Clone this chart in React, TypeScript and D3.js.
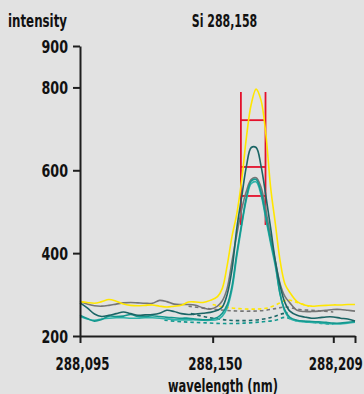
import React, { useEffect, useRef } from "react";
import * as d3 from "d3";

// wavelength grid (nm) shared by the solid spectra
const wavelengths = [
  288.095, 288.098, 288.101, 288.104, 288.107, 288.11, 288.113, 288.116, 288.119, 288.122,
  288.125, 288.128, 288.131, 288.134, 288.137, 288.14, 288.143, 288.146, 288.149, 288.152,
  288.154, 288.156, 288.158, 288.16, 288.162, 288.164, 288.166, 288.168, 288.17, 288.172,
  288.174, 288.176, 288.178, 288.18, 288.182, 288.185, 288.188, 288.191, 288.194, 288.197,
  288.2, 288.203, 288.206, 288.209,
];

const yellowSpec = [
  283, 281, 279, 283, 288, 284, 277, 274, 273, 274, 275, 272, 270, 272, 274, 282, 282, 281, 286, 295,
  315, 370, 440, 495, 575, 680, 760, 796, 770, 690, 560, 470, 380, 325, 305, 283, 275, 272, 273, 274,
  275, 275, 276, 276,
];
const graySpec = [
  284, 277, 273, 272, 274, 277, 280, 281, 280, 279, 279, 286, 283, 277, 276, 276, 274, 268, 265, 272,
  285, 315, 380, 445, 505, 550, 578, 582, 560, 505, 440, 380, 325, 295, 280, 262, 259, 259, 260, 262,
  264, 264, 262, 260,
];
const darkTealSpec = [
  280, 268, 253, 247, 250, 254, 258, 254, 250, 251, 252, 255, 262, 259, 254, 252, 253, 255, 257, 262,
  270, 300, 360, 460, 535, 610, 655, 655, 612, 540, 462, 380, 320, 280, 260, 250, 246, 243, 244, 246,
  246, 243, 241, 236,
];
const tealSpec = [
  250, 242, 236, 240, 248, 247, 248, 252, 247, 247, 249, 247, 245, 244, 243, 243, 241, 239, 240, 245,
  255, 275, 320, 400, 470, 535, 574, 578, 548, 490, 430, 375, 300, 262, 245, 238, 236, 235, 234, 233,
  231, 231, 233, 235,
];
const lightTealSpec = [
  247, 241, 238, 241, 243, 244, 244, 243, 243, 244, 244, 243, 241, 239, 239, 239, 239, 238, 238, 240,
  248, 268, 312, 392, 465, 530, 568, 572, 542, 484, 424, 368, 300, 258, 242, 236, 234, 233, 232, 230,
  229, 229, 231, 233,
];

// dashed background estimates under the peak
const yellowBgW = [288.15, 288.155, 288.161, 288.168, 288.173, 288.178, 288.181, 288.185, 288.19];
const yellowBg = [276, 270, 266, 265, 268, 280, 287, 281, 272];
const grayBgW = [288.14, 288.148, 288.155, 288.162, 288.17, 288.176, 288.18, 288.186, 288.194, 288.2];
const grayBg = [272, 266, 262, 260, 261, 266, 270, 264, 261, 258];
const darkTealBgW = [288.141, 288.148, 288.155, 288.162, 288.17, 288.175, 288.179, 288.181];
const darkTealBg = [254, 245, 239, 237, 240, 246, 254, 256];
const tealBgW = [288.13, 288.138, 288.146, 288.155, 288.163, 288.17, 288.176, 288.18, 288.184, 288.19, 288.196, 288.2];
const tealBg = [238, 234, 232, 230, 231, 234, 238, 245, 238, 234, 230, 229];

// integration window markers
const windowEdges = [288.1617, 288.1719];
const windowRange = [468, 789];
const windowLevels = [721, 608, 538];

const yTicks = [200, 400, 600, 800, 900];
const xTicks = [288.095, 288.15, 288.2, 288.209];
const xTickLabels = ["288,095", "288,150", "288,209", ""];

const W = 364;
const H = 394;
const margin = { left: 80, right: 9, top: 46, bottom: 58 };
const FONT = "'Liberation Sans Narrow', 'Arial Narrow', 'DejaVu Sans Condensed', sans-serif";

export default function App() {
  const xAxisRef = useRef<SVGGElement>(null);
  const yAxisRef = useRef<SVGGElement>(null);

  const x = d3.scaleLinear().domain([288.095, 288.209]).range([margin.left, W - margin.right]);
  const y = d3.scaleLinear().domain([200, 900]).range([H - margin.bottom, margin.top]);

  const line = d3
    .line<[number, number]>()
    .x((d) => x(d[0]))
    .y((d) => y(d[1]))
    .curve(d3.curveCatmullRom.alpha(0.5));

  const zip = (ws: number[], vs: number[]) => ws.map((w, i) => [w, vs[i]] as [number, number]);

  useEffect(() => {
    document.body.style.margin = "0";
    document.body.style.background = "#e2e2e2";

    const xAxis = d3
      .axisBottom(x)
      .tickValues(xTicks)
      .tickFormat((_, i) => xTickLabels[i])
      .tickSize(7)
      .tickSizeOuter(0);
    const yAxis = d3
      .axisLeft(y)
      .tickValues(yTicks)
      .tickFormat((d) => String(d))
      .tickSize(7)
      .tickSizeOuter(0);

    const gx = d3.select(xAxisRef.current!).call(xAxis as any);
    const gy = d3.select(yAxisRef.current!).call(yAxis as any);

    [gx, gy].forEach((g) => {
      g.selectAll("path, line").attr("stroke", "#1e1e1e").attr("stroke-width", 2);
      g.selectAll("text")
        .attr("fill", "#111")
        .attr("lengthAdjust", "spacingAndGlyphs")
        .style("font-family", FONT)
        .style("font-weight", "bold")
        .style("font-size", "17px");
    });
    gx.selectAll("text").attr("y", 34).attr("dy", "0").attr("dx", 2).attr("textLength", 54);
    gy.selectAll("text").attr("x", -12).attr("dy", "0.38em").attr("textLength", 26.5);
  }, []);

  const solid = [
    { data: graySpec, color: "#767676" },
    { data: yellowSpec, color: "#ffe600" },
    { data: lightTealSpec, color: "#2fb3aa" },
    { data: tealSpec, color: "#14988f" },
    { data: darkTealSpec, color: "#1b6565" },
  ];
  const dashed = [
    { w: yellowBgW, data: yellowBg, color: "#ffe600" },
    { w: grayBgW, data: grayBg, color: "#767676" },
    { w: darkTealBgW, data: darkTealBg, color: "#1b6565" },
    { w: tealBgW, data: tealBg, color: "#14988f" },
  ];

  return (
    <svg
      width={W}
      height={H}
      style={{ position: "absolute", left: 0, top: 0, display: "block" }}
    >
      <rect x={0} y={0} width={W} height={H} fill="#e2e2e2" />

      {dashed.map((s, i) => (
        <path
          key={"d" + i}
          d={line(zip(s.w, s.data)) || ""}
          fill="none"
          stroke={s.color}
          strokeWidth={1.6}
          strokeDasharray="3.5,3"
        />
      ))}

      <g stroke="#e4112b" strokeWidth={1.8}>
        {windowEdges.map((w, i) => (
          <line key={"v" + i} x1={x(w)} x2={x(w)} y1={y(windowRange[0])} y2={y(windowRange[1])} />
        ))}
        {windowLevels.map((v, i) => (
          <line key={"h" + i} x1={x(windowEdges[0])} x2={x(windowEdges[1])} y1={y(v)} y2={y(v)} />
        ))}
      </g>

      {solid.map((s, i) => (
        <path
          key={"s" + i}
          d={line(zip(wavelengths, s.data)) || ""}
          fill="none"
          stroke={s.color}
          strokeWidth={1.6}
        />
      ))}

      <g ref={xAxisRef} transform={`translate(0,${y(200)})`} />
      <g ref={yAxisRef} transform={`translate(${x(288.095)},0)`} />

      <g fill="#111" style={{ fontFamily: FONT, fontWeight: "bold", fontSize: 17 }}>
        <text x={8} y={26.5} textLength={59} lengthAdjust="spacingAndGlyphs">intensity</text>
        <text x={224.5} y={26.5} textAnchor="middle" textLength={65.5} lengthAdjust="spacingAndGlyphs">
          Si 288,158
        </text>
        <text x={223} y={392} textAnchor="middle" textLength={110} lengthAdjust="spacingAndGlyphs">
          wavelength (nm)
        </text>
      </g>
    </svg>
  );
}
